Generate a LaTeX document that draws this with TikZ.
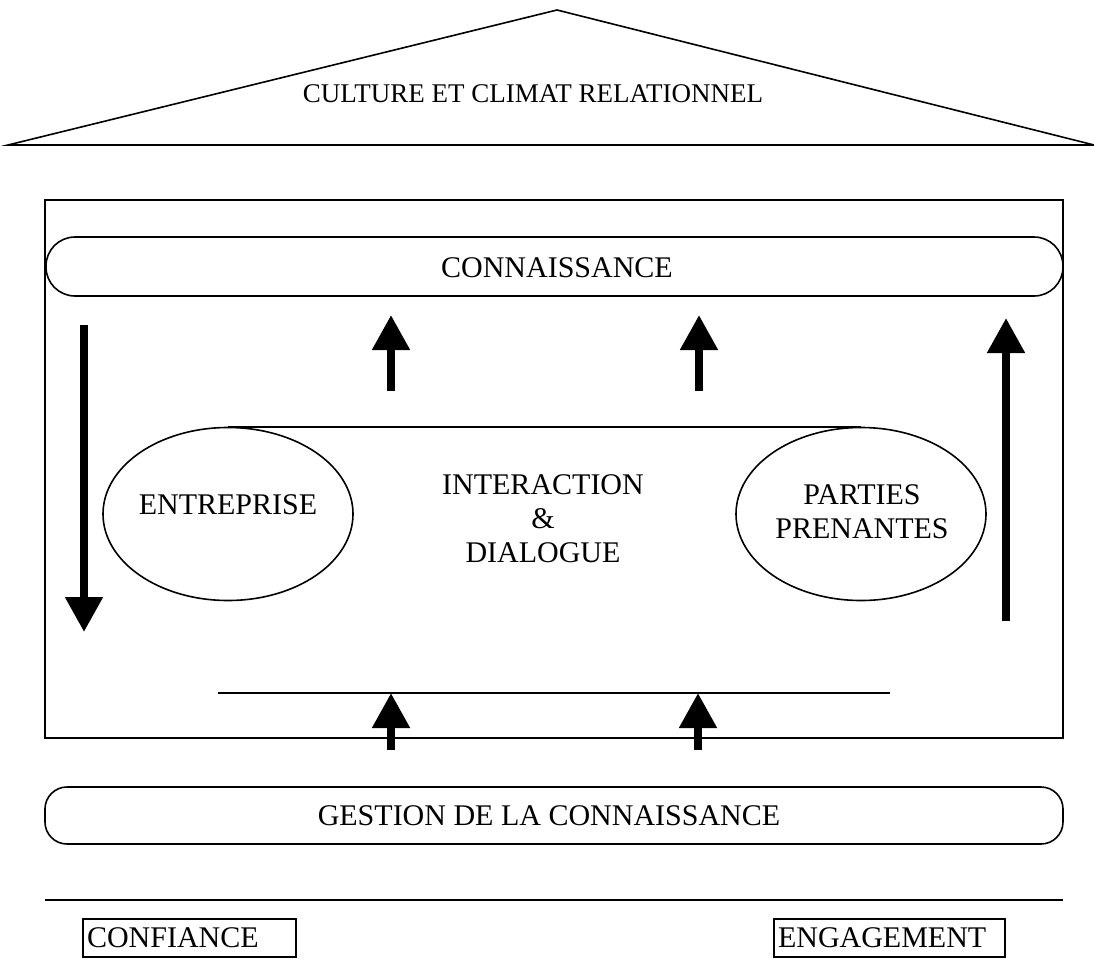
\documentclass[tikz,border=0pt]{standalone}
\usepackage{fontspec}
\setmainfont{Liberation Serif}
\usetikzlibrary{shapes.geometric,arrows.meta}
\tikzset{
  ln/.style={line width=1.6pt},
  bigtxt/.style={font=\fontsize{30}{34}\selectfont, inner sep=0pt},
  toptxt/.style={font=\fontsize{27}{31}\selectfont, inner sep=0pt},
  pill/.style={draw, ln, rectangle, rounded corners=#1, inner sep=0pt},
  oval/.style={draw, ln, ellipse, minimum width=250pt, minimum height=173pt, inner sep=0pt},
  fatarrow/.style={line width=8pt, -{Triangle[length=35pt,width=36pt]}},
  tag/.style={draw, line width=1.4pt, minimum width=213pt, minimum height=38pt, text width=205pt, align=left, inner xsep=4pt, inner ysep=0pt, font=\fontsize{30}{34}\selectfont}
}
\begin{document}
\begin{tikzpicture}[x=1pt,y=-1pt]
\useasboundingbox (0,0) rectangle (1094,958);
% roof
\draw[ln, line join=miter] (8,145) -- (557,10) -- (1094,145) -- cycle;
\node[toptxt] (culture) at (533,94) {CULTURE ET CLIMAT RELATIONNEL};
% main frame
\node[draw, ln, minimum width=1018pt, minimum height=538pt, inner sep=0pt] (frame) at (554,469) {};
% connaissance pill
\node[pill=29pt, minimum width=1017pt, minimum height=59pt] (conn) at (554.5,266.5) {};
\node[bigtxt] (conntxt) at (557,268) {CONNAISSANCE};
% ellipses
\node[oval] (ent) at (228,514) {};
\node[bigtxt] (enttxt) at (228,505) {ENTREPRISE};
\node[oval] (pp) at (861,514) {};
\node[bigtxt, align=center] (pptxt) at (862,512) {PARTIES\\PRENANTES};
\draw[ln] (ent.north) -- (pp.north);
\node[bigtxt, align=center] (inter) at (543,519) {INTERACTION\\\&\\DIALOGUE};
% bottom inner line
\coordinate (bl) at (218,693);
\coordinate (br) at (890,693);
\draw[ln] (bl) -- (br);
% arrows
\coordinate (a1s) at (391,391); \coordinate (a1e) at (391,315);
\coordinate (a2s) at (699,391); \coordinate (a2e) at (699,315);
\coordinate (b1s) at (391,750); \coordinate (b1e) at (391,693);
\coordinate (b2s) at (698,750); \coordinate (b2e) at (698,693);
\coordinate (ls) at (84,325);   \coordinate (le) at (84,632);
\coordinate (rs) at (1006,621); \coordinate (re) at (1006,318);
\draw[fatarrow] (a1s) -- (a1e);
\draw[fatarrow] (a2s) -- (a2e);
\draw[fatarrow] (b1s) -- (b1e);
\draw[fatarrow] (b2s) -- (b2e);
\draw[fatarrow] (ls) -- (le);
\draw[fatarrow] (rs) -- (re);
% gestion pill
\node[pill=22pt, minimum width=1018pt, minimum height=57pt] (gest) at (554,815.5) {};
\node[bigtxt] (gesttxt) at (549,816) {GESTION DE LA CONNAISSANCE};
% bottom line
\coordinate (hl) at (45,900);
\coordinate (hr) at (1063,900);
\draw[ln] (hl) -- (hr);
% tags
\node[tag] (conf) at (189.5,938) {CONFIANCE};
\node[tag, minimum width=231pt, text width=223pt] (eng) at (889.5,938) {ENGAGEMENT};
\end{tikzpicture}
\end{document}
